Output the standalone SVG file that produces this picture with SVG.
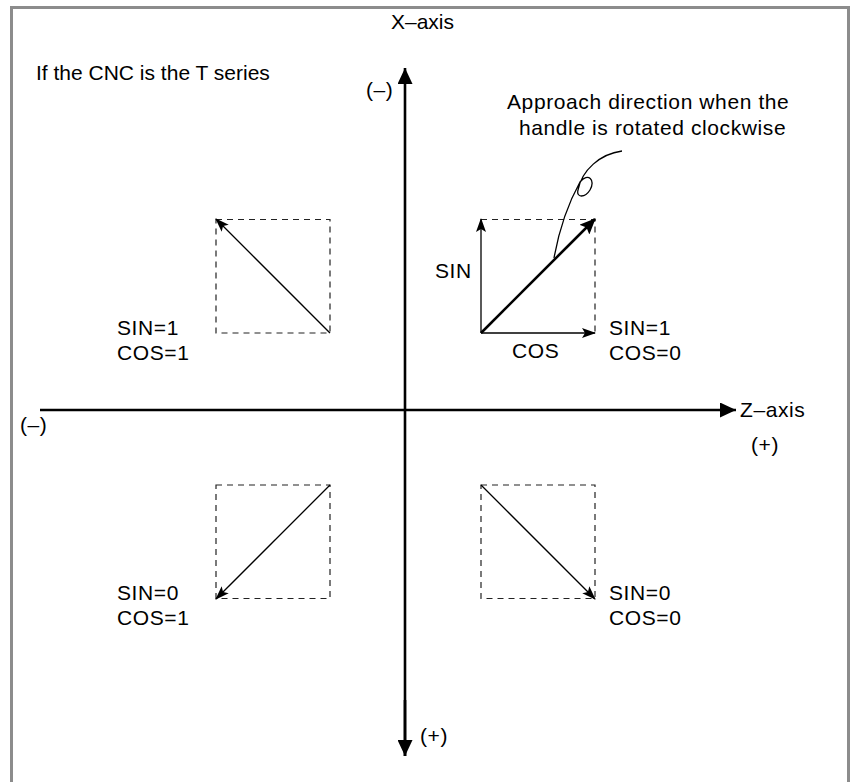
<svg xmlns="http://www.w3.org/2000/svg" width="850" height="782" viewBox="0 0 850 782">
<style>
text{font-family:"Liberation Sans",Arial,sans-serif;font-size:21px;letter-spacing:0.6px;fill:#000}
text.n{letter-spacing:0}
.dash{fill:none;stroke:#222;stroke-width:1.2;stroke-dasharray:6 5}
.thin{fill:none;stroke:#000;stroke-width:1.3}
.thick{fill:none;stroke:#000;stroke-width:2.6}
.frame{fill:none;stroke:#8c8c8c;stroke-width:3}
</style>
<defs>
<marker id="ah" viewBox="0 0 14 10" refX="13" refY="5" markerWidth="14" markerHeight="10" markerUnits="userSpaceOnUse" orient="auto">
<path d="M0,0 L14,5 L0,10 L3,5 Z" fill="#000"/>
</marker>
<marker id="ahb" viewBox="0 0 16 14" refX="15" refY="7" markerWidth="16" markerHeight="14" markerUnits="userSpaceOnUse" orient="auto">
<path d="M0,0 L16,7 L0,14 L3,7 Z" fill="#000"/>
</marker>
<marker id="axh" viewBox="0 0 16 15" refX="16" refY="7.5" markerWidth="16" markerHeight="15" markerUnits="userSpaceOnUse" orient="auto">
<path d="M0,0 L16,7.5 L0,15 Z" fill="#000"/>
</marker>
</defs>
<path class="frame" d="M11.5,782 V7.5 H848.5 V782"/>
<text class="n" x="36" y="80">If the CNC is the T series</text>
<g id="x-axis">
<line class="thick" x1="405" y1="756" x2="405" y2="68" marker-end="url(#axh)"/>
<text class="n" x="391" y="29">X–axis</text>
<text x="366" y="97">(–)</text>
</g>
<g id="x-axis-plus">
<line class="thick" x1="405" y1="700" x2="405" y2="756" marker-end="url(#axh)"/>
<text x="420" y="743">(+)</text>
</g>
<g id="z-axis">
<line class="thick" x1="40" y1="410" x2="736" y2="410" marker-end="url(#axh)"/>
<text x="740" y="417">Z–axis</text>
<text x="20" y="432">(–)</text>
<text x="751" y="452">(+)</text>
</g>
<g id="q1">
<path class="dash" d="M481,219.5 H595 V333"/>
<line class="thin" x1="481" y1="333" x2="481" y2="219" marker-end="url(#ah)"/>
<line class="thin" x1="481" y1="333" x2="595" y2="333" marker-end="url(#ah)"/>
<line class="thick" x1="481" y1="333" x2="595" y2="219" marker-end="url(#ahb)"/>
<text x="435" y="278">SIN</text>
<text x="512" y="358">COS</text>
<text x="609" y="335">SIN=1</text>
<text x="609" y="360">COS=0</text>
</g>
<g id="note">
<path class="thin" d="M622,151 C600,154 582,170 578,190 C576,198 585,198 590,190 C596,180 588,172 580,182 C570,200 560,225 554,258" stroke-width="1.1"/>
<text x="507" y="109">Approach direction when the</text>
<text x="519" y="135">handle is rotated clockwise</text>
</g>
<g id="q2">
<rect class="dash" x="216" y="219.5" width="114" height="113.5"/>
<line class="thin" x1="330" y1="333" x2="216" y2="219" marker-end="url(#ah)"/>
<text x="117" y="335">SIN=1</text>
<text x="117" y="360">COS=1</text>
</g>
<g id="q3">
<rect class="dash" x="216" y="485" width="114" height="113.5"/>
<line class="thin" x1="330" y1="485" x2="216" y2="599" marker-end="url(#ah)"/>
<text x="117" y="600">SIN=0</text>
<text x="117" y="625">COS=1</text>
</g>
<g id="q4">
<rect class="dash" x="481" y="485" width="114" height="113.5"/>
<line class="thin" x1="481" y1="485" x2="595" y2="599" marker-end="url(#ah)"/>
<text x="609" y="600">SIN=0</text>
<text x="609" y="625">COS=0</text>
</g>
</svg>
